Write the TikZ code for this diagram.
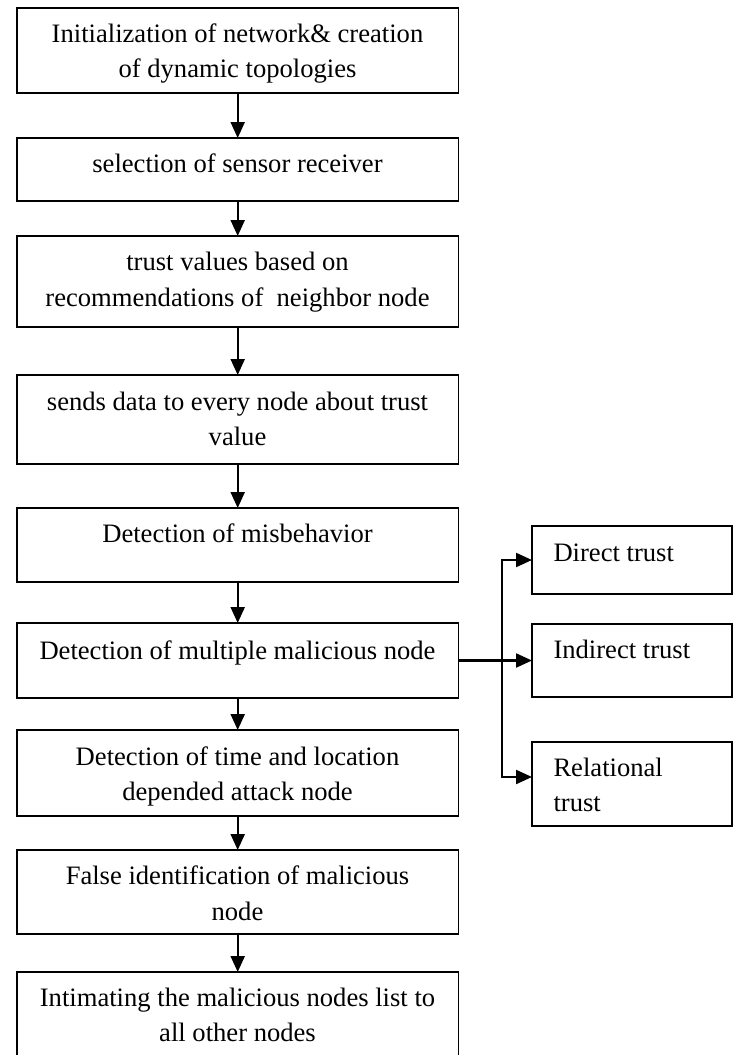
\documentclass[tikz,border=0pt]{standalone}
\usepackage{fontspec}
\setmainfont{Liberation Serif}
\usetikzlibrary{arrows.meta}
\tikzset{
  box/.style={draw=black, line width=1.4pt, rectangle, inner sep=0pt, outer sep=0pt},
  mainbox/.style={box, minimum width=441.5pt},
  sidebox/.style={box, minimum width=200pt},
  arr/.style={line width=2.2pt, -{Triangle[length=16pt,width=14pt]}},
  txt/.style={anchor=base, inner sep=0pt, font=\fontsize{26.6}{34}\selectfont},
  ltxt/.style={anchor=base west, inner sep=0pt, font=\fontsize{26.6}{34}\selectfont}
}
\begin{document}
\begin{tikzpicture}[x=1pt, y=-1pt]
\useasboundingbox (0,0) rectangle (735,1055);
\clip (0,0) rectangle (735,1055);
% main boxes
\node[mainbox, minimum height=85pt] (b1) at (237.7,50.5) {};
\node[mainbox, minimum height=63pt] (b2) at (237.7,169.5) {};
\node[mainbox, minimum height=91pt] (b3) at (237.7,281.5) {};
\node[mainbox, minimum height=89pt] (b4) at (237.7,419.5) {};
\node[mainbox, minimum height=74pt] (b5) at (237.7,545) {};
\node[mainbox, minimum height=75pt] (b6) at (237.7,660.5) {};
\node[mainbox, minimum height=86pt] (b7) at (237.7,773) {};
\node[mainbox, minimum height=84pt] (b8) at (237.7,892) {};
\node[mainbox, minimum height=93pt] (b9) at (237.7,1018.5) {};
% side boxes
\node[sidebox, minimum height=68pt] (r1) at (632,560) {};
\node[sidebox, minimum height=73pt] (r2) at (632,660.5) {};
\node[sidebox, minimum height=84pt] (r3) at (632,784) {};
% texts
\node[txt] (t1a) at (237.5,42.7) {Initialization of network\& creation};
\node[txt] (t1b) at (237.5,77.3) {of dynamic topologies};
\node[txt] (t2a) at (237.5,172.3) {selection of sensor receiver};
\node[txt] (t3a) at (237.5,270.5) {trust values based on};
\node[txt] (t3b) at (237.5,306) {recommendations of\ \ neighbor node};
\node[txt] (t4a) at (237.5,410.5) {sends data to every node about trust};
\node[txt] (t4b) at (237.5,445.5) {value};
\node[txt] (t5a) at (237.5,542.5) {Detection of misbehavior};
\node[txt] (t6a) at (237.5,659) {Detection of multiple malicious node};
\node[txt] (t7a) at (237.5,765) {Detection of time and location};
\node[txt] (t7b) at (237.5,800) {depended attack node};
\node[txt] (t8a) at (237.5,884.3) {False identification of malicious};
\node[txt] (t8b) at (237.5,920) {node};
\node[txt] (t9a) at (237.5,1006) {Intimating the malicious nodes list to};
\node[txt] (t9b) at (237.5,1041.7) {all other nodes};
\node[ltxt] (u1) at (553.3,561) {Direct trust};
\node[ltxt] (u2) at (553.3,658.3) {Indirect trust};
\node[ltxt] (u3a) at (553.3,776.7) {Relational};
\node[ltxt] (u3b) at (553.3,811.7) {trust};
% vertical arrows
\draw[arr] (b1.south) -- (b2.north);
\draw[arr] (b2.south) -- (b3.north);
\draw[arr] (b3.south) -- (b4.north);
\draw[arr] (b4.south) -- (b5.north);
\draw[arr] (b5.south) -- (b6.north);
\draw[arr] (b6.south) -- (b7.north);
\draw[arr] (b7.south) -- (b8.north);
\draw[arr] (b8.south) -- (b9.north);
% branch
\coordinate (j) at (502,660.5);
\coordinate (r3in) at (532,777);
\draw[arr] (b6.east) -- (r2.west);
\draw[arr] (j) |- (r1.west);
\draw[arr] (j) |- (r3in);
\end{tikzpicture}
\end{document}
